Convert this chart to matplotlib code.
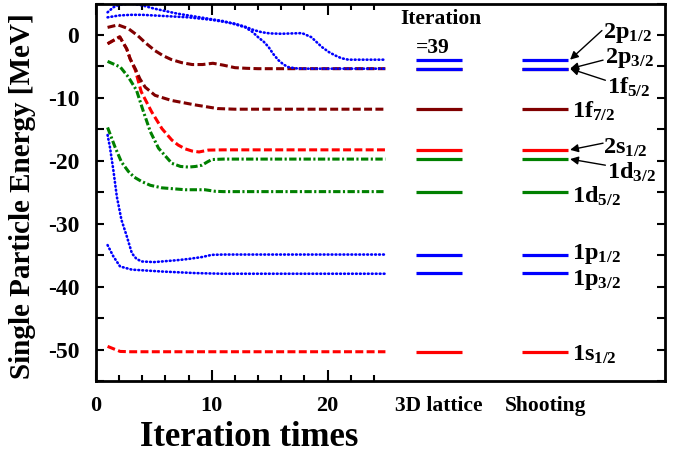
import matplotlib
matplotlib.use('Agg')
import matplotlib.pyplot as plt
from matplotlib.ticker import FixedLocator, MultipleLocator

plt.rcParams['font.family'] = ['Liberation Serif', 'DejaVu Serif']
plt.rcParams['font.weight'] = 'bold'
plt.rcParams['axes.labelweight'] = 'bold'
plt.rcParams['axes.unicode_minus'] = False
plt.rcParams['mathtext.fontset'] = 'custom'
plt.rcParams['mathtext.rm'] = 'Liberation Serif:bold'
plt.rcParams['mathtext.it'] = 'Liberation Serif:bold'
plt.rcParams['mathtext.bf'] = 'Liberation Serif:bold'

# iteration curves (x = iteration, E = MeV)
x_2p12 = [1, 2, 3, 4, 5, 6, 7, 8, 9, 10, 11, 12, 12.9, 13.6, 14.3, 15, 16, 17, 17.8, 18.6, 19.5, 20.1, 20.65, 21.2, 21.8, 25]
e_2p12 = [2.8, 3.1, 3.2, 3.2, 3.1, 3.0, 2.9, 2.8, 2.6, 2.4, 2.1, 1.8, 1.3, 0.8, 0.44, 0.25, 0.19, 0.25, 0.29, -0.35, -1.9, -2.7, -3.25, -3.7, -3.93, -3.93]
x_2p32 = [1, 1.5, 2, 3, 4, 5, 6, 7, 8, 9, 10, 11, 12, 12.9, 13.5, 14.0, 14.5, 14.9, 15.3, 15.75, 16.2, 16.6, 17.2, 17.8, 25]
e_2p32 = [3.6, 4.4, 4.8, 5.0, 4.7, 4.2, 3.8, 3.4, 3.1, 2.8, 2.5, 2.2, 1.7, 1.2, 0.5, -0.35, -1.1, -1.9, -3.0, -4.0, -4.7, -5.1, -5.3, -5.36, -5.36]
x_1f52 = [1, 1.9, 2.8, 3.6, 4.3, 5.1, 5.8, 6.5, 7.4, 8.3, 9.2, 10.1, 11, 12, 13, 14, 25]
e_1f52 = [1.2, 1.6, 1.0, -0.1, -1.3, -2.5, -3.3, -3.9, -4.4, -4.7, -4.7, -4.5, -4.8, -5.2, -5.3, -5.36, -5.36]
x_1f72 = [1, 2.05, 2.65, 2.95, 3.4, 3.8, 4.25, 5.1, 6.5, 8.5, 10.5, 12, 25]
e_1f72 = [-1.4, -0.3, -2.2, -3.8, -5.4, -7.0, -8.3, -9.6, -10.4, -11.1, -11.7, -11.8, -11.8]
x_2s12 = [1, 2.05, 2.65, 2.95, 3.4, 3.9, 4.8, 5.7, 6.55, 7.1, 7.7, 8.3, 8.9, 9.7, 11, 25]
e_2s12 = [-1.4, -0.3, -2.2, -3.8, -5.6, -9.0, -12.2, -14.9, -16.7, -17.5, -18.1, -18.45, -18.6, -18.3, -18.26, -18.26]
x_1d32 = [1, 2.1, 2.8, 3.5, 4.1, 4.7, 5.4, 6.55, 7.3, 8.0, 8.6, 9.15, 9.6, 10, 11, 25]
e_1d32 = [-4.2, -5.1, -6.7, -8.8, -12.2, -15.4, -18.0, -20.4, -20.9, -21.0, -20.9, -20.7, -20.2, -19.8, -19.73, -19.73]
x_1d52 = [1, 1.64, 2.2, 2.8, 3.3, 3.95, 4.7, 5.7, 7.7, 9.4, 10.3, 11, 25]
e_1d52 = [-14.7, -17.8, -20.2, -21.7, -22.6, -23.3, -23.9, -24.3, -24.6, -24.6, -24.85, -24.9, -24.9]
x_1p12 = [1, 1.2, 1.5, 1.8, 2.2, 2.66, 3.1, 3.5, 3.95, 5, 5.7, 7, 8, 9.15, 10, 11, 25]
e_1p12 = [-15.9, -17.8, -21.5, -25.7, -29.4, -32.0, -34.7, -35.6, -36.0, -36.1, -36.0, -35.8, -35.6, -35.3, -34.95, -34.9, -34.9]
x_1p32 = [1, 1.5, 2.08, 3.1, 5.7, 8.6, 10.9, 25]
e_1p32 = [-33.4, -35.2, -36.8, -37.3, -37.6, -37.85, -37.95, -37.95]
x_1s12 = [1, 2.08, 3, 25]
e_1s12 = [-49.5, -50.3, -50.35, -50.35]

# converged levels (iteration = 39) and shooting-method levels
states = ['1f5/2', '2p3/2', '2p1/2', '1f7/2', '2s1/2', '1d3/2', '1d5/2', '1p1/2', '1p3/2', '1s1/2']
lattice_E = [-5.36, -5.36, -3.93, -11.8, -18.26, -19.73, -24.9, -34.9, -37.9, -50.35]
shooting_E = [-5.36, -5.36, -3.93, -11.8, -18.26, -19.73, -24.9, -34.9, -37.9, -50.35]
columns = ['3D lattice', 'Shooting']

blue = '#0000ff'
brown = '#800000'
red = '#ff0000'
green = '#008000'
state_colors = [brown, blue, blue, brown, red, green, green, blue, blue, red]

fig = plt.figure(figsize=(6.85, 4.57), dpi=100)
ax = fig.add_axes([96 / 685, 1 - 381 / 457, 569 / 685, 377.5 / 457])

dot = dict(color=blue, lw=1.9, linestyle=(0, (0.3, 1.2)), dash_capstyle='round')
dash_b = dict(color=brown, lw=2.2, linestyle=(0, (2.6, 1.1)))
dash_r = dict(color=red, lw=2.2, linestyle=(0, (2.6, 1.1)))
dashdot = dict(color=green, lw=2.2, linestyle=(0, (2.4, 0.8, 0.7, 0.8)))

ax.plot(x_2s12, e_2s12, **dash_r)
ax.plot(x_1f52, e_1f52, **dash_b)
ax.plot(x_1f72, e_1f72, **dash_b)
ax.plot(x_1d32, e_1d32, **dashdot)
ax.plot(x_1d52, e_1d52, **dashdot)
ax.plot(x_2p12, e_2p12, **dot)
ax.plot(x_2p32, e_2p32, **dot)
ax.plot(x_1p12, e_1p12, **dot)
ax.plot(x_1p32, e_1p32, **dot)
ax.plot(x_1s12, e_1s12, **dash_r)

# level columns
col_x = [(27.6, 31.6), (36.8, 40.8)]
for (x0, x1), levels in zip(col_x, [lattice_E, shooting_E]):
    for e, c in zip(levels, state_colors):
        ax.plot([x0, x1], [e, e], color=c, lw=2.3, solid_capstyle='butt')

# state labels next to the shooting column
label_pos = {
    '2p1/2': (43.8, 0.3), '2p3/2': (44.0, -3.6), '1f5/2': (44.1, -8.3),
    '1f7/2': (41.1, -12.1), '2s1/2': (43.8, -17.9), '1d3/2': (44.1, -21.8),
    '1d5/2': (41.1, -25.7), '1p1/2': (41.1, -34.8), '1p3/2': (41.1, -38.9),
    '1s1/2': (41.1, -50.8),
}
for s in states:
    lx, ly = label_pos[s]
    ax.text(lx, ly, s[:2] + '$_{' + s[2:] + '}$', fontsize=17.5, ha='left', va='center')

arrows = {'2p1/2': (43.7, 0.7), '2p3/2': (43.8, -4.0), '1f5/2': (44.0, -7.2),
          '2s1/2': (43.8, -17.2), '1d3/2': (44.0, -20.7)}
xend = col_x[1][1] + 0.15
for s, tail in arrows.items():
    e = shooting_E[states.index(s)]
    ax.annotate('', xy=(xend, e), xytext=tail,
                arrowprops=dict(arrowstyle='-|>', color='k', lw=1.0, mutation_scale=12,
                                shrinkA=0, shrinkB=0))

ax.text(29.8, 2.6, 'Iteration', fontsize=15.5, ha='center', va='center')
ax.text(29.1, -2.0, '=39', fontsize=15.5, ha='center', va='center')

ax.set_xlim(0, 49.15)
ax.set_ylim(-55, 5)

col_centers = [(a + b) / 2 for a, b in col_x]
ax.xaxis.set_major_locator(FixedLocator([0, 10, 20] + col_centers))
ax.set_xticklabels(['0', '10', '20'] + columns)
ax.xaxis.set_minor_locator(FixedLocator([2, 4, 6, 8, 12, 14, 16, 18, 22, 24]))
ax.yaxis.set_major_locator(MultipleLocator(10))
ax.yaxis.set_minor_locator(MultipleLocator(5))

ax.tick_params(axis='x', which='both', direction='in', top=True, width=1.5)
ax.tick_params(axis='x', which='major', length=8, labelsize=16, pad=11)
ax.tick_params(axis='x', which='minor', length=4)
ax.tick_params(axis='y', which='both', direction='in', right=True, length=6, width=1.5)
ax.tick_params(axis='y', which='major', labelsize=17, pad=12)
for t in ax.xaxis.get_major_ticks()[3:]:
    t.tick1line.set_visible(False)
    t.tick2line.set_visible(False)
for lab in ax.get_xticklabels()[3:]:
    lab.set_fontsize(15.5)

for sp in ax.spines.values():
    sp.set_linewidth(2)

ax.set_xlabel('Iteration times', fontsize=25)
ax.xaxis.set_label_coords(0.27, -0.105)
ax.set_ylabel('Single Particle Energy [MeV]', fontsize=21)
ax.yaxis.set_label_coords(-0.105, 0.49)

fig.savefig('out.png', dpi=100)
